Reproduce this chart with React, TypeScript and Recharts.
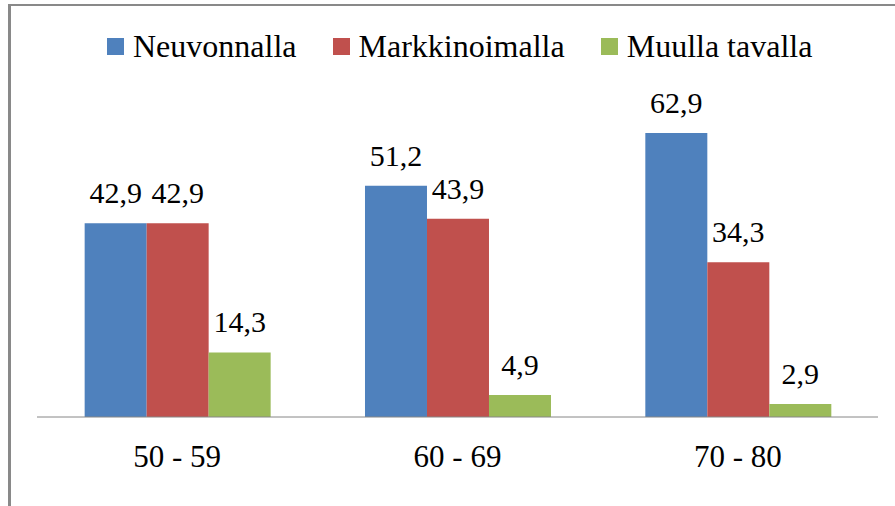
import React from 'react';
import { BarChart, Bar, XAxis, YAxis, LabelList } from 'recharts';

const ageGroups = ['50 - 59', '60 - 69', '70 - 80'];
const neuvonnalla = [42.9, 51.2, 62.9];
const markkinoimalla = [42.9, 43.9, 34.3];
const muullaTavalla = [14.3, 4.9, 2.9];

const series = [
  { key: 'neuvonnalla', name: 'Neuvonnalla', color: '#4F81BD' },
  { key: 'markkinoimalla', name: 'Markkinoimalla', color: '#C0504D' },
  { key: 'muulla', name: 'Muulla tavalla', color: '#9BBB59' },
];

const data = ageGroups.map((group, i) => ({
  group,
  neuvonnalla: neuvonnalla[i],
  markkinoimalla: markkinoimalla[i],
  muulla: muullaTavalla[i],
}));

const font = "'Liberation Serif', Tinos, 'DejaVu Serif', serif";

const fmt = (v: any) => String(v).replace('.', ',');

export default function App() {
  return (
    <div style={{ position: 'absolute', left: 0, top: 0, width: 895, height: 506, background: '#fff', fontFamily: font }}>
      <div
        style={{
          position: 'absolute',
          left: 8,
          top: 4,
          width: 887,
          height: 502,
          borderTop: '2px solid #898989',
          borderLeft: '3px solid #898989',
          boxSizing: 'border-box',
        }}
      />
      {/* legend */}
      <div
        style={{
          position: 'absolute',
          left: 107,
          top: 28,
          display: 'flex',
          fontSize: 32,
          lineHeight: '36px',
          color: '#000',
        }}
      >
        {series.map((s, i) => (
          <div key={s.key} style={{ display: 'flex', alignItems: 'center', marginLeft: i === 0 ? 0 : 36 }}>
            <span style={{ width: 17, height: 17, background: s.color, marginRight: 9, display: 'inline-block' }} />
            <span>{s.name}</span>
          </div>
        ))}
      </div>
      <div style={{ position: 'absolute', left: 0, top: 0 }}>
        <BarChart
          width={895}
          height={506}
          data={data}
          margin={{ top: 101, right: 17, bottom: 0, left: 37 }}
          barGap={0}
          barCategoryGap="17%"
        >
          <XAxis
            dataKey="group"
            height={89}
            axisLine={{ stroke: '#868686', strokeWidth: 1 }}
            tickLine={false}
            tickSize={0}
            tickMargin={28}
            tick={{ fill: '#000', fontSize: 31, fontFamily: font }}
          />
          <YAxis hide domain={[0, 70]} />
          {series.map((s) => (
            <Bar key={s.key} dataKey={s.key} name={s.name} fill={s.color} isAnimationActive={false}>
              <LabelList
                dataKey={s.key}
                position="top"
                offset={20}
                formatter={fmt}
                fill="#000"
                fontSize={30}
                fontFamily={font}
              />
            </Bar>
          ))}
        </BarChart>
      </div>
    </div>
  );
}
